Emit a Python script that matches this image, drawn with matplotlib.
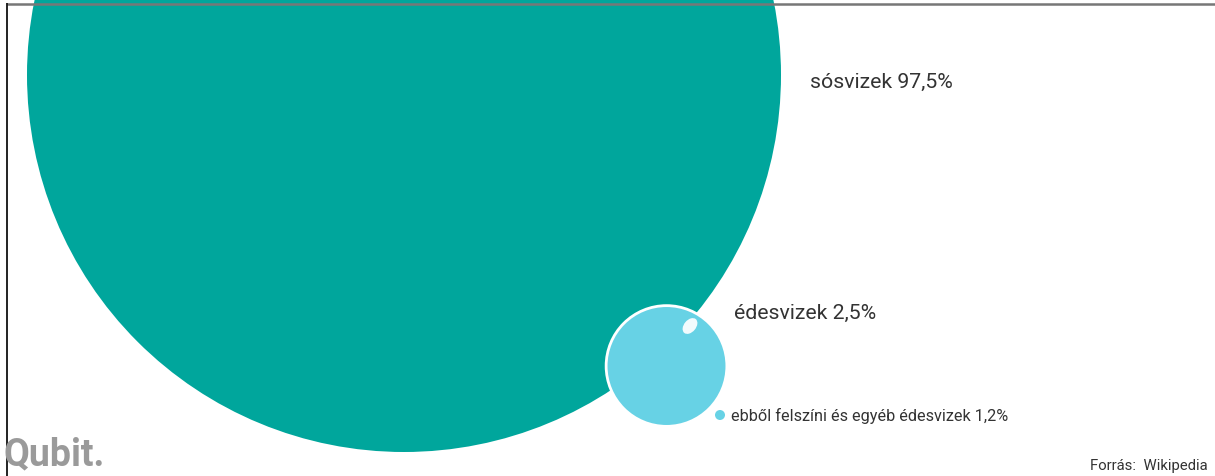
import matplotlib.pyplot as plt
from matplotlib.patches import Circle, Ellipse
import numpy as np

# Data: share of Earth's water (%)
labels = ["sósvizek 97,5%", "édesvizek 2,5%", "ebből felszíni és egyéb édesvizek 1,2%"]
shares = [97.5, 2.5, 1.2]
source = "Forrás:  Wikipedia"

teal = "#00A69C"
light_blue = "#67D2E5"
text_col = "#333333"

W, H = 1215, 477
fig = plt.figure(figsize=(W / 100, H / 100), dpi=100)
ax = fig.add_axes([0, 0, 1, 1])
ax.set_xlim(0, W)
ax.set_ylim(H, 0)
ax.set_aspect("equal")
ax.axis("off")

# circle areas proportional to the shares
R_big = 377
r_small = R_big * np.sqrt(shares[1] / shares[0])

big = Circle((404, 76), R_big, color=teal, lw=0)
ax.add_patch(big)

small = Circle((666.5, 367), r_small, facecolor=light_blue, edgecolor="white", lw=2)
ax.add_patch(small)
ax.add_patch(Ellipse((690, 327), 12, 18, angle=40, facecolor="#F2FBFD", edgecolor="none"))

# legend dot for the surface freshwater
ax.add_patch(Circle((720, 416), 5, color=light_blue, lw=0))

ax.text(810, 82, labels[0], fontsize=15.3, family="Roboto", color=text_col, va="center")
ax.text(734, 313, labels[1], fontsize=15.3, family="Roboto", color=text_col, va="center")
ax.text(731, 416, labels[2], fontsize=11.7, family="Roboto", color=text_col, va="center")
ax.text(1208, 466, source, fontsize=10.7, family="Roboto", color=text_col, va="center", ha="right")

# logo
ax.text(3, 455, "Qubit.", fontsize=27, family="Roboto", weight="bold", color="#9A9A9A", va="center")

# frame lines
ax.plot([7, W], [4.5, 4.5], color="#777777", lw=1.8, solid_capstyle="butt")
ax.plot([7, 7], [4, H], color="#111111", lw=1.3, solid_capstyle="butt")

plt.savefig("out.png", dpi=100)
